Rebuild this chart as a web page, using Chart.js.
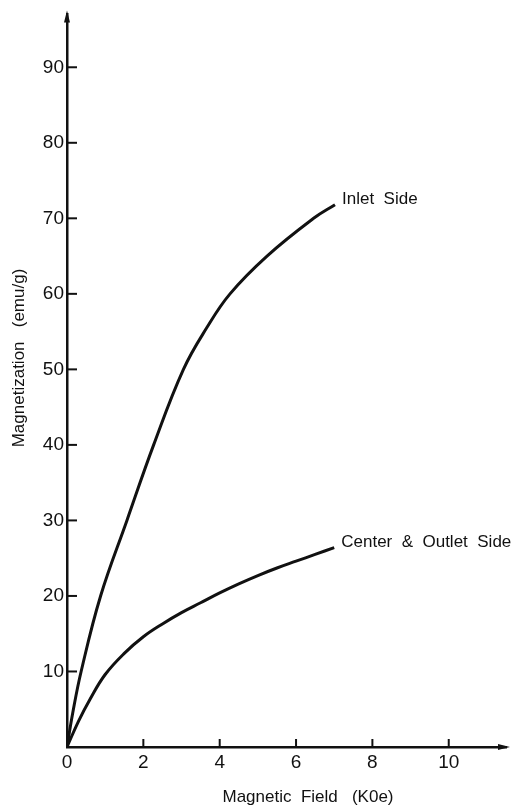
<!DOCTYPE html>
<html>
<head>
<meta charset="utf-8">
<script src="https://cdn.jsdelivr.net/npm/chart.js@4/dist/chart.umd.min.js"></script>
<style>
  body { margin: 0; background: #fff; }
  #wrap { width: 518px; height: 810px; }
</style>
</head>
<body>
<div id="wrap"><canvas id="myChart"></canvas></div>
<script>
'use strict';

// data
let xTicks = [0, 2, 4, 6, 8, 10];
let yTicks = [10, 20, 30, 40, 50, 60, 70, 80, 90];

let inletField = [0, 0.15, 0.37, 0.88, 1.57, 2.27, 3.05, 3.66, 4.27, 5.24, 6.46, 7.02];
let inletMag = [0, 4.5, 10, 20, 30, 40, 50, 55.5, 60, 65, 70, 71.8];

let centerField = [0, 0.3, 0.6, 1.0, 1.5, 2.0, 2.5, 3.0, 3.5, 4.0, 4.5, 5.0, 5.5, 6.0, 6.5, 7.0];
let centerMag = [0, 3.4, 6.3, 9.6, 12.4, 14.6, 16.3, 17.8, 19.1, 20.4, 21.6, 22.7, 23.7, 24.6, 25.5, 26.4];

let seriesNames = ['Inlet  Side', 'Center  &  Outlet  Side'];
let xTitle = 'Magnetic  Field   (K0e)';
let yTitle = 'Magnetization   (emu/g)';

let tickFont = { family: "'Liberation Sans', Arial", size: 19 };
let textFont = "17px 'Liberation Sans', Arial";

function toPoints(xs, ys) {
  let pts = [];
  for (let i = 0; i < xs.length; i++) {
    pts.push({ x: xs[i], y: ys[i] });
  }
  return pts;
}

// tick marks, arrows, axis titles and curve labels
let decorations = {
  id: 'decorations',
  afterDraw(chart) {
    let ctx = chart.ctx;
    let xs = chart.scales.x;
    let ys = chart.scales.y;
    let area = chart.chartArea;
    ctx.save();
    ctx.strokeStyle = '#111';
    ctx.fillStyle = '#111';
    ctx.lineWidth = 2;

    // y ticks point into the plot
    for (let v of yTicks) {
      let py = ys.getPixelForValue(v);
      ctx.beginPath();
      ctx.moveTo(area.left, py);
      ctx.lineTo(area.left + 10, py);
      ctx.stroke();
    }
    // x ticks point up
    for (let v of xTicks) {
      let px = xs.getPixelForValue(v);
      ctx.beginPath();
      ctx.moveTo(px, area.bottom);
      ctx.lineTo(px, area.bottom - 8);
      ctx.stroke();
    }

    // arrow heads
    ctx.beginPath();
    ctx.moveTo(area.left, area.top - 4);
    ctx.lineTo(area.left - 3, area.top + 8);
    ctx.lineTo(area.left + 3, area.top + 8);
    ctx.closePath();
    ctx.fill();
    ctx.beginPath();
    ctx.moveTo(area.right + 4, area.bottom);
    ctx.lineTo(area.right - 8, area.bottom - 3);
    ctx.lineTo(area.right - 8, area.bottom + 3);
    ctx.closePath();
    ctx.fill();

    // axis titles
    ctx.font = textFont;
    ctx.textAlign = 'center';
    ctx.textBaseline = 'middle';
    ctx.fillText(xTitle, 308, 797);
    ctx.translate(19, 358);
    ctx.rotate(-Math.PI / 2);
    ctx.fillText(yTitle, 0, 0);
    ctx.setTransform(1, 0, 0, 1, 0, 0);

    // labels at the ends of the curves
    ctx.textAlign = 'left';
    ctx.textBaseline = 'alphabetic';
    chart.data.datasets.forEach(function (ds) {
      let last = ds.data[ds.data.length - 1];
      let px = xs.getPixelForValue(last.x);
      let py = ys.getPixelForValue(last.y);
      ctx.fillText(ds.label, px + 7, py - 1);
    });
    ctx.restore();
  }
};

let ctx = document.getElementById('myChart').getContext('2d');
let myChart = new Chart(ctx, {
  type: 'scatter',
  data: {
    datasets: [{
      label: seriesNames[0],
      data: toPoints(inletField, inletMag),
      showLine: true,
      borderColor: '#111',
      borderWidth: 3,
      pointRadius: 0,
      tension: 0.4
    }, {
      label: seriesNames[1],
      data: toPoints(centerField, centerMag),
      showLine: true,
      borderColor: '#111',
      borderWidth: 3,
      pointRadius: 0,
      tension: 0.4
    }]
  },
  options: {
    responsive: true,
    maintainAspectRatio: false,
    animation: false,
    layout: { padding: { top: 14, right: 12, left: 0, bottom: 0 } },
    plugins: {
      legend: { display: false },
      tooltip: { enabled: false }
    },
    scales: {
      x: {
        type: 'linear',
        min: 0,
        max: 11.5,
        afterBuildTicks: function (scale) {
          scale.ticks = xTicks.map(function (v) { return { value: v }; });
        },
        afterFit: function (scale) { scale.height = 63; },
        grid: { display: false, drawTicks: false },
        border: { display: true, color: '#111', width: 2.5 },
        ticks: { color: '#111', font: tickFont, padding: 4, maxRotation: 0 }
      },
      y: {
        type: 'linear',
        min: 0,
        max: 97,
        afterBuildTicks: function (scale) {
          scale.ticks = yTicks.map(function (v) { return { value: v }; });
        },
        afterFit: function (scale) { scale.width = 67; },
        grid: { display: false, drawTicks: false },
        border: { display: true, color: '#111', width: 2.5 },
        ticks: { color: '#111', font: tickFont, padding: 3 }
      }
    }
  },
  plugins: [decorations]
});
</script>
</body>
</html>
